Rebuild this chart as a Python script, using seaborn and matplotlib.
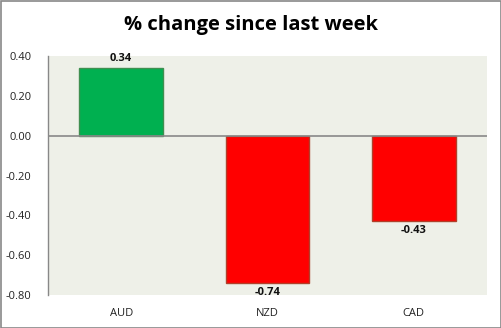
import matplotlib
matplotlib.use("Agg")
import matplotlib.pyplot as plt
import seaborn as sns
import pandas as pd

categories = ["AUD", "NZD", "CAD"]
values = [0.34, -0.74, -0.43]
labels = ["0.34", "-0.74", "-0.43"]
yticks = [0.40, 0.20, 0.00, -0.20, -0.40, -0.60, -0.80]

sns.set_theme(style="white")
plt.rcParams['font.family'] = ['Open Sans', 'DejaVu Sans']

df = pd.DataFrame({"cur": categories, "val": values})
colors = ["#00B050" if v > 0 else "#FF0000" for v in values]
edges = ["#3F8F50" if v > 0 else "#B0402A" for v in values]

fig = plt.figure(figsize=(5.02, 3.28), dpi=100)
fig.patch.set_facecolor("white")
ax = fig.add_axes([48/502, 1-295/328, (487-48)/502, (295-56)/328])
ax.set_facecolor("#EEF0E8")

sns.barplot(data=df, x="cur", y="val", hue="cur", palette=colors, legend=False,
            width=0.57, ax=ax, saturation=1)
for p, ec in zip(ax.patches, edges):
    p.set_edgecolor(ec)
    p.set_linewidth(1.0)

ax.set_ylim(-0.80, 0.40)
ax.set_yticks(yticks)
ax.set_yticklabels([f"{t:.2f}" for t in yticks], fontsize=8, color="#222222")
ax.set_xlabel("")
ax.set_ylabel("")
ax.tick_params(axis='x', labelsize=8, colors="#222222", length=0, pad=9)
ax.tick_params(axis='y', length=0, pad=12)
for lab in ax.get_xticklabels():
    lab.set_color("#222222")

for s in ["top", "right", "bottom"]:
    ax.spines[s].set_visible(False)
ax.spines["left"].set_color("#888888")
ax.spines["left"].set_linewidth(1)
ax.axhline(0, color="#888888", lw=1.2, zorder=3)

for i, (v, t) in enumerate(zip(values, labels)):
    if v > 0:
        ax.annotate(t, (i, v), xytext=(0, 3), textcoords="offset points",
                    ha="center", va="bottom", fontsize=8, fontweight="bold", color="#111111")
    else:
        ax.annotate(t, (i, v), xytext=(0, -3), textcoords="offset points",
                    ha="center", va="top", fontsize=8, fontweight="bold", color="#111111")

fig.text(0.5, 1-25/328, "% change since last week", ha="center", va="center",
         fontsize=14.5, fontweight="bold", color="black")

border = plt.Rectangle((0.5/502, 0.5/328), 1-1/502, 1-1/328, transform=fig.transFigure,
                       fill=False, edgecolor="#888888", lw=1.2)
fig.add_artist(border)

fig.savefig("out.png", dpi=100, facecolor="white")
